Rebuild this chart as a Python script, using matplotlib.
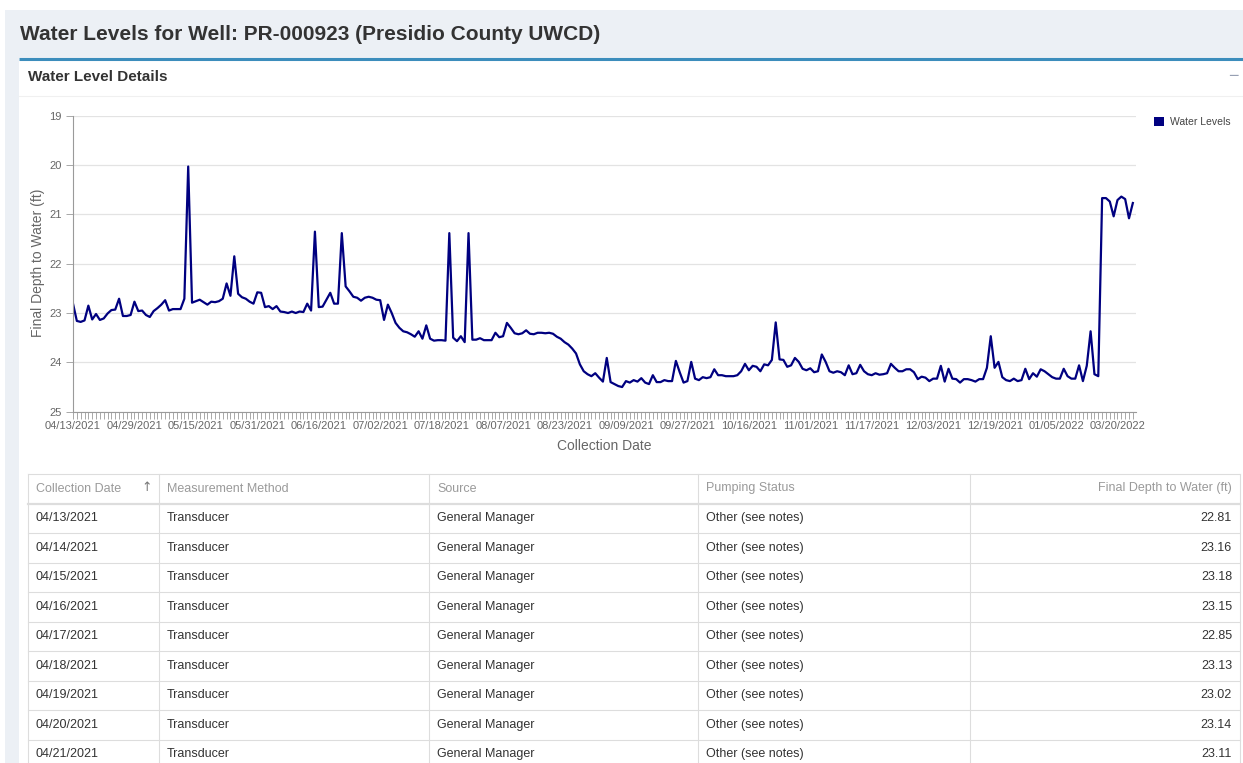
import datetime as dt
import matplotlib
matplotlib.use("Agg")
import matplotlib.pyplot as plt
from matplotlib.patches import Rectangle, Patch

plt.rcParams['font.family'] = ['Liberation Sans', 'DejaVu Sans']

W, H = 1243, 763

# collection dates, given as runs of consecutive days
date_runs = [
    ("04/13/2021", "07/18/2021"),
    ("07/23/2021", "08/23/2021"),
    ("08/25/2021", "09/09/2021"),
    ("09/12/2021", "09/27/2021"),
    ("10/01/2021", "12/31/2021"),
    ("01/02/2022", "01/16/2022"),
    ("03/16/2022", "03/24/2022"),
]

depth = [
    22.81, 23.16, 23.18, 23.15, 22.85, 23.13, 23.02, 23.14, 23.11,
    23.01, 22.94, 22.93, 22.71, 23.06, 23.06, 23.04, 22.77, 22.96, 22.95, 23.04,
    23.08, 22.96, 22.90, 22.83, 22.74, 22.95, 22.92, 22.92, 22.92, 22.71,
    20.03, 22.79, 22.76, 22.73, 22.78, 22.83, 22.77, 22.78, 22.76, 22.71,
    22.40, 22.65, 21.85, 22.61, 22.68, 22.71, 22.77, 22.81, 22.58, 22.59,
    22.88, 22.86, 22.92, 22.86, 22.97, 22.98, 23.00, 22.97, 23.00, 22.97,
    22.98, 22.81, 22.95, 21.35, 22.88, 22.87, 22.73, 22.59, 22.81, 22.81,
    21.38, 22.46, 22.56, 22.67, 22.69, 22.75, 22.69, 22.67, 22.69, 22.73,
    22.74, 23.14, 22.83, 23.00, 23.20, 23.30, 23.37, 23.39, 23.43, 23.48,
    23.37, 23.52, 23.25, 23.52, 23.56, 23.55, 23.55, 23.56, 21.38, 23.50,
    23.57, 23.47, 23.59, 21.38, 23.54, 23.54, 23.51, 23.55, 23.55, 23.55,
    23.40, 23.49, 23.47, 23.20, 23.30, 23.41, 23.43, 23.41, 23.35, 23.42,
    23.43, 23.40, 23.40, 23.41, 23.40, 23.42, 23.48, 23.52, 23.59, 23.64,
    23.72, 23.82, 24.04, 24.18, 24.24, 24.28, 24.22, 24.31, 24.39, 23.91,
    24.40, 24.44, 24.48, 24.50, 24.38, 24.41, 24.36, 24.39, 24.32, 24.41,
    24.44, 24.26, 24.40, 24.40, 24.36, 24.38, 24.38, 23.97, 24.20, 24.41,
    24.38, 23.99, 24.33, 24.36, 24.30, 24.32, 24.30, 24.14, 24.26, 24.26,
    24.28, 24.28, 24.28, 24.26, 24.18, 24.03, 24.16, 24.07, 24.09, 24.18,
    24.04, 24.06, 23.95, 23.19, 23.94, 23.95, 24.09, 24.06, 23.91, 23.99,
    24.13, 24.16, 24.12, 24.20, 24.18, 23.84, 23.99, 24.18, 24.21, 24.18,
    24.20, 24.26, 24.06, 24.24, 24.22, 24.05, 24.18, 24.24, 24.26, 24.22,
    24.25, 24.24, 24.22, 24.03, 24.11, 24.18, 24.18, 24.14, 24.14, 24.20,
    24.34, 24.29, 24.31, 24.38, 24.33, 24.33, 24.07, 24.39, 24.13, 24.33,
    24.34, 24.41, 24.34, 24.34, 24.36, 24.39, 24.34, 24.34, 24.11, 23.47,
    24.11, 23.99, 24.30, 24.36, 24.38, 24.33, 24.38, 24.36, 24.13, 24.34,
    24.22, 24.29, 24.14, 24.18, 24.24, 24.30, 24.33, 24.33, 24.13, 24.28,
    24.33, 24.33, 24.06, 24.38, 24.07, 23.37, 24.24, 24.28, 20.67, 20.67,
    20.74, 21.04, 20.71, 20.64, 20.69, 21.08, 20.77,
]

headers = ["Collection Date", "Measurement Method", "Source", "Pumping Status",
           "Final Depth to Water (ft)"]
method = "Transducer"
source = "General Manager"
status = "Other (see notes)"
n_rows = 9


def expand(runs):
    out = []
    for a, b in runs:
        d = dt.datetime.strptime(a, "%m/%d/%Y")
        end = dt.datetime.strptime(b, "%m/%d/%Y")
        while d <= end:
            out.append(d.strftime("%m/%d/%Y"))
            d += dt.timedelta(days=1)
    return out


dates = expand(date_runs)
xs = list(range(len(dates)))

fig = plt.figure(figsize=(W / 100, H / 100), dpi=100)

# page layer, pixel coordinates
bg = fig.add_axes([0, 0, 1, 1], zorder=0)
bg.set_xlim(0, W)
bg.set_ylim(H, 0)
bg.axis("off")
bg.add_patch(Rectangle((5, 10), W - 5, H - 10, color="#ecf0f5", lw=0))
bg.add_patch(Rectangle((19, 58), W - 19, H - 58, color="white", lw=0))
bg.plot([19, W], [58.5, 58.5], color="#3c8dbc", lw=2.2, solid_capstyle="butt")
bg.plot([19, W], [95.5, 95.5], color="#f0f0f0", lw=0.8)
bg.text(20, 34, "Water Levels for Well: PR-000923 (Presidio County UWCD)",
        fontsize=15, fontweight="bold", color="#333333", va="center")
bg.text(28, 77, "Water Level Details", fontsize=11, fontweight="bold",
        color="#333333", va="center")
bg.text(1233, 76, "\u2212", fontsize=13, color="#97a0b3", ha="center", va="center")

# table
col_edges = [28, 159, 429, 698, 970, 1240]
top, head_bot, row_h = 473.5, 503.5, 29.5
line_c = "#dddddd"
bg.plot([28, 1240], [top, top], color=line_c, lw=0.8)
bg.plot([28, 1240], [head_bot, head_bot], color=line_c, lw=1.6)
for k in range(1, n_rows + 1):
    yb = head_bot + k * row_h
    bg.plot([28, 1240], [yb, yb], color=line_c, lw=0.8)
for xe in col_edges:
    bg.plot([xe, xe], [top, H], color=line_c, lw=0.8)
hy = (top + head_bot) / 2
for j, h in enumerate(headers):
    if j < 4:
        bg.text(col_edges[j] + 8, hy, h, fontsize=9, color="#9a9a9a", va="center")
    else:
        bg.text(col_edges[j + 1] - 8, hy, h, fontsize=9, color="#9a9a9a",
                va="center", ha="right")
bg.text(147, hy - 1, "\u2191", fontsize=9, color="#777777", va="center",
        ha="center", family=["DejaVu Sans"])
for k in range(n_rows):
    ry = head_bot + k * row_h + row_h / 2
    cells = [dates[k], method, source, status]
    for j, c in enumerate(cells):
        bg.text(col_edges[j] + 8, ry, c, fontsize=9, color="#333333", va="center")
    bg.text(col_edges[5] - 8, ry, f"{depth[k]:.2f}", fontsize=9, color="#333333",
            va="center", ha="right")

# chart
x0, x1, y0, y1 = 73, 1136, 115.7, 411.7
ax = fig.add_axes([x0 / W, 1 - y1 / H, (x1 - x0) / W, (y1 - y0) / H], zorder=2)
ax.patch.set_alpha(0)
ax.plot(xs, depth, color="#000080", lw=1.6, solid_joinstyle="round")
ax.set_ylim(25, 19)
ax.set_yticks(range(19, 26))
ax.set_xlim(0, (x1 - x0) / 3.84)
ax.grid(axis="y", color="#e3e3e3", lw=0.9)
ax.set_axisbelow(True)
for s in ["top", "right"]:
    ax.spines[s].set_visible(False)
ax.spines["left"].set_color("#9a9a9a")
ax.spines["bottom"].set_color("#9a9a9a")
ax.spines["left"].set_linewidth(0.8)
ax.spines["bottom"].set_linewidth(0.8)

major = list(range(0, len(dates), 16))
ax.set_xticks(major)
ax.set_xticklabels([dates[i] for i in major])
ax.set_xticks(xs, minor=True)
ax.tick_params(axis="x", which="both", length=5, width=0.6, color="#9a9a9a",
               labelsize=8, labelcolor="#666666", pad=2)
ax.tick_params(axis="y", length=5, width=0.6, color="#9a9a9a",
               labelsize=8, labelcolor="#666666", pad=3)

ax.set_ylabel("Final Depth to Water (ft)", fontsize=10, color="#666666")
ax.yaxis.set_label_coords((45 - x0) / (x1 - x0), 1 - (263 - y0) / (y1 - y0))
ax.set_xlabel("Collection Date", fontsize=10, color="#666666")
ax.xaxis.set_label_coords((604 - x0) / (x1 - x0), -(439 - y1) / (y1 - y0))

fig.legend(handles=[Patch(facecolor="#000080", edgecolor="none", label="Water Levels")],
           loc="upper left", bbox_to_anchor=(1154 / W, 1 - 117 / H), frameon=False,
           fontsize=7.5, labelcolor="#444444", handlelength=0.95, handleheight=0.95,
           handletextpad=0.55, borderpad=0, borderaxespad=0)

fig.savefig("out.png", dpi=100)
